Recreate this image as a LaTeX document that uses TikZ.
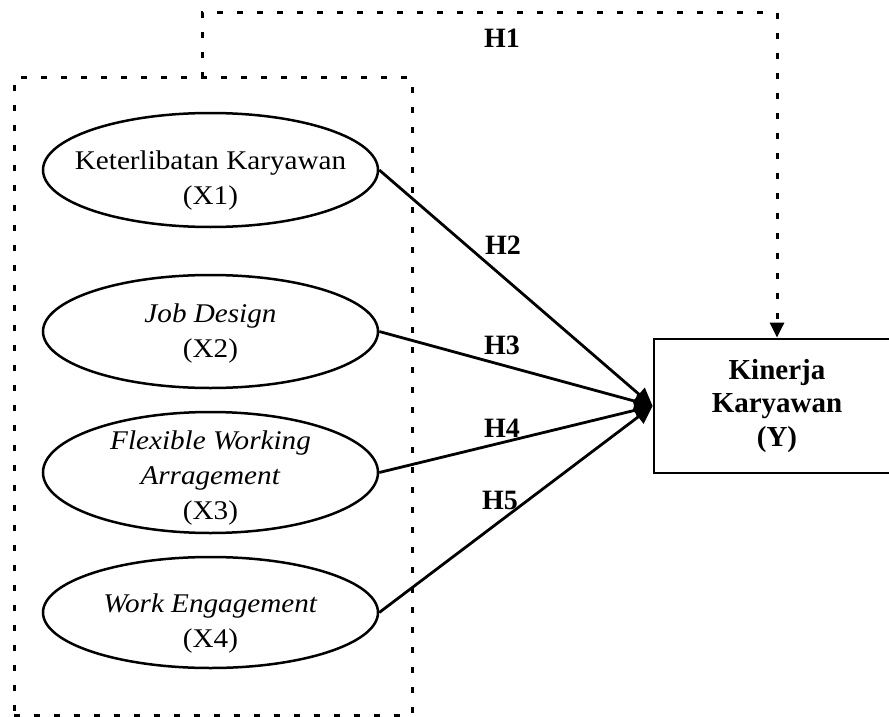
\documentclass[tikz,border=0pt]{standalone}
\usepackage{fontspec}
\setmainfont{Liberation Serif}
\newfontfamily\ellfont[FakeStretch=1.08]{Liberation Serif}
\usetikzlibrary{shapes.geometric,arrows.meta,positioning}
\tikzset{
  var/.style={draw, ellipse, line width=2.5pt, minimum width=335pt, inner sep=0pt},
  vartext/.style={align=center, inner sep=0pt, font=\ellfont\fontsize{27}{35}\selectfont},
  dep/.style={draw, rectangle, line width=2.8pt, minimum width=246pt, minimum height=134pt, inner sep=0pt, align=center, font=\bfseries\fontsize{29}{33.5}\selectfont},
  grpbox/.style={draw, line width=3pt, dash pattern=on 6pt off 14pt},
  link/.style={line width=2.8pt, -{Triangle[length=18pt,width=17pt]}},
  dlink/.style={line width=3pt, dash pattern=on 6pt off 14pt, -{Triangle[length=15pt,width=14pt]}},
  hlab/.style={font=\bfseries\fontsize{28}{30}\selectfont},
}
\begin{document}
\begin{tikzpicture}[x=1pt,y=-1pt]
\useasboundingbox (0,0) rectangle (889,717);
\fill[white] (0,0) rectangle (889,717);
% group box
\node[grpbox, minimum width=398pt, minimum height=637pt, inner sep=0pt] (grp) at (213,396.5) {};
% variables
\node[var, minimum height=114pt] (x1) at (210.5,170) {};
\node[var, minimum height=113pt] (x2) at (210.5,331.5) {};
\node[var, minimum height=121pt] (x3) at (210.5,472.5) {};
\node[var, minimum height=111pt] (x4) at (210.5,612.5) {};
\node[vartext] (t1) at (210.5,181) {Keterlibatan Karyawan\\(X1)};
\node[vartext] (t2) at (210.5,333.5) {\textit{Job Design}\\(X2)};
\node[vartext] (t3) at (210.5,478.5) {\textit{Flexible Working}\\\textit{Arragement}\\(X3)};
\node[vartext] (t4) at (210.5,624) {\textit{Work Engagement}\\(X4)};
\node[dep] (y) at (777,406) {Kinerja\\Karyawan\\(Y)};
% H1
\coordinate (h1a) at (202,78);
\coordinate (h1b) at (202,13);
\coordinate (h1c) at (777,13);
\draw[dlink] (h1a) -- (h1b) -- (h1c) -- (h1c |- y.north);
% arrows
\draw[link] (x1.east) -- (y.west);
\draw[link] (x2.east) -- (y.west);
\draw[link] (x3.east) -- (y.west);
\draw[link] (x4.east) -- (y.west);
% labels
\node[hlab] (l1) at (502,38) {H1};
\node[hlab] (l2) at (503,245) {H2};
\node[hlab] (l3) at (502,345) {H3};
\node[hlab] (l4) at (502,428) {H4};
\node[hlab] (l5) at (500,500) {H5};
\end{tikzpicture}
\end{document}
